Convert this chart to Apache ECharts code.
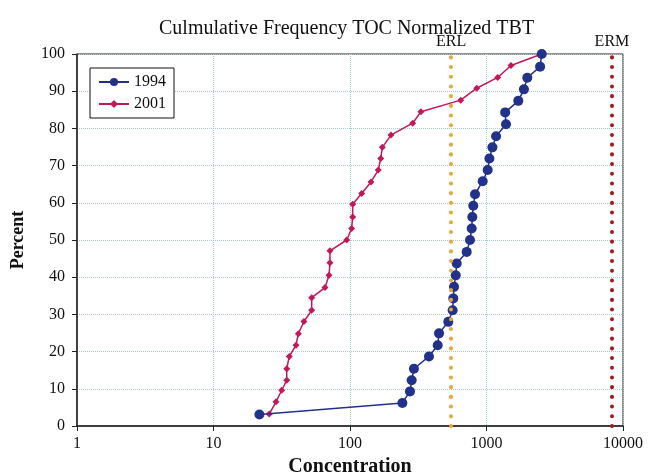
<!DOCTYPE html>
<html>
<head>
<meta charset="utf-8">
<script src="https://cdn.jsdelivr.net/npm/echarts@6/dist/echarts.min.js"></script>
<style>
  html, body { margin: 0; padding: 0; background: #fff; }
  #chart { width: 648px; height: 473px; }
</style>
</head>
<body>
<div id="chart"></div>
<script>
// cumulative percent vs concentration
const conc1994 = [21.7, 242, 275, 283, 294, 379, 439, 449, 525, 565, 571, 578, 595, 605, 716, 757,
  779, 787, 800, 824, 938, 1020, 1050, 1105, 1175, 1390, 1370, 1710, 1880, 1990, 2470, 2540];
const pct1994 = [3.1, 6.2, 9.3, 12.3, 15.4, 18.7, 21.7, 24.9, 28.0, 31.1, 34.3, 37.4, 40.5, 43.7, 46.8, 50.0,
  53.1, 56.2, 59.2, 62.3, 65.8, 68.8, 71.9, 74.9, 77.9, 81.1, 84.3, 87.4, 90.5, 93.6, 96.6, 100];

const conc2001 = [25.6, 28.7, 31.6, 34.4, 34.4, 35.9, 40.2, 41.8, 46, 52.4, 52.4, 65.6, 70.2, 71.3, 71.3, 94.6,
  102.8, 104.6, 104.6, 121.8, 142.5, 161, 168, 172.5, 199.6, 288, 331, 647, 848, 1208, 1512, 2540];
const pct2001 = [3.2, 6.5, 9.6, 12.3, 15.4, 18.7, 21.7, 24.8, 28.1, 31.1, 34.5, 37.2, 40.5, 43.9, 47.1, 50.0,
  53.1, 56.2, 59.6, 62.5, 65.6, 68.8, 71.9, 74.9, 78.2, 81.4, 84.5, 87.6, 90.8, 93.7, 96.9, 100];

const guideNames = ['ERL', 'ERM'];
const guideValues = [550, 8300];
const guideColors = ['#e8a53c', '#9e1c1c'];

const serif = '"Liberation Serif", "DejaVu Serif", serif';

const chart = echarts.init(document.getElementById('chart'));

const dotted = (color) => ({ color: color, width: 4, type: [0.1, 9.6], cap: 'round' });

chart.setOption({
  animation: false,
  title: {
    text: 'Culmulative Frequency TOC Normalized TBT',
    left: 154,
    top: 14,
    textStyle: { fontFamily: serif, fontWeight: 'normal', fontSize: 20, color: '#111' }
  },
  legend: {
    orient: 'vertical',
    left: 90,
    top: 68,
    padding: [6, 8, 6, 8],
    itemGap: 6,
    itemWidth: 30,
    itemHeight: 10,
    backgroundColor: '#fff',
    borderColor: '#111',
    borderWidth: 1,
    textStyle: { fontFamily: serif, fontSize: 16, color: '#111' },
    data: ['1994', '2001']
  },
  grid: {
    left: 77, right: 25, top: 54, bottom: 47,
    outerBoundsMode: 'none',
    containLabel: false,
    show: true, borderColor: '#222', borderWidth: 1
  },
  xAxis: {
    type: 'log',
    logBase: 10,
    min: 1,
    max: 10000,
    name: 'Concentration',
    nameLocation: 'middle',
    nameGap: 31,
    nameTextStyle: { fontFamily: serif, fontWeight: 'bold', fontSize: 20, color: '#111' },
    axisLine: { lineStyle: { color: '#222', width: 1.5 } },
    axisTick: { show: true, length: 5, lineStyle: { color: '#222' } },
    axisLabel: {
      fontFamily: serif, fontSize: 16, color: '#111', margin: 10,
      formatter: (v) => String(Math.round(v))
    },
    splitLine: { show: true, lineStyle: { color: '#a9cccc', type: 'dotted', width: 1 } },
    minorTick: { show: false }
  },
  yAxis: {
    type: 'value',
    min: 0,
    max: 100,
    interval: 10,
    name: 'Percent',
    nameLocation: 'middle',
    nameGap: 50,
    nameTextStyle: { fontFamily: serif, fontWeight: 'bold', fontSize: 18, color: '#111' },
    axisLine: { show: true, lineStyle: { color: '#222', width: 1.5 } },
    axisTick: { show: true, length: 5, lineStyle: { color: '#222' } },
    axisLabel: { fontFamily: serif, fontSize: 16, color: '#111', margin: 12 },
    splitLine: { show: true, lineStyle: { color: '#a9cccc', type: 'dotted', width: 1 } }
  },
  series: [
    {
      name: 'guides',
      type: 'line',
      data: [],
      markLine: {
        silent: true,
        symbol: 'none',
        data: guideNames.map((n, i) => ({
          name: n,
          xAxis: guideValues[i],
          lineStyle: dotted(guideColors[i])
        })),
        label: {
          position: 'end',
          formatter: '{b}',
          distance: 4,
          fontFamily: serif,
          fontSize: 16,
          color: '#111'
        }
      }
    },
    {
      name: '1994',
      type: 'line',
      data: conc1994.map((c, i) => [c, pct1994[i]]),
      symbol: 'circle',
      symbolSize: 10,
      color: '#22318a',
      lineStyle: { width: 1.5, color: '#22318a' },
      itemStyle: { color: '#22318a' },
      z: 4
    },
    {
      name: '2001',
      type: 'line',
      data: conc2001.map((c, i) => [c, pct2001[i]]),
      symbol: 'diamond',
      symbolSize: 7,
      color: '#c0185a',
      lineStyle: { width: 1.5, color: '#c0185a' },
      itemStyle: { color: '#c0185a' },
      z: 3
    }
  ]
});
</script>
</body>
</html>
